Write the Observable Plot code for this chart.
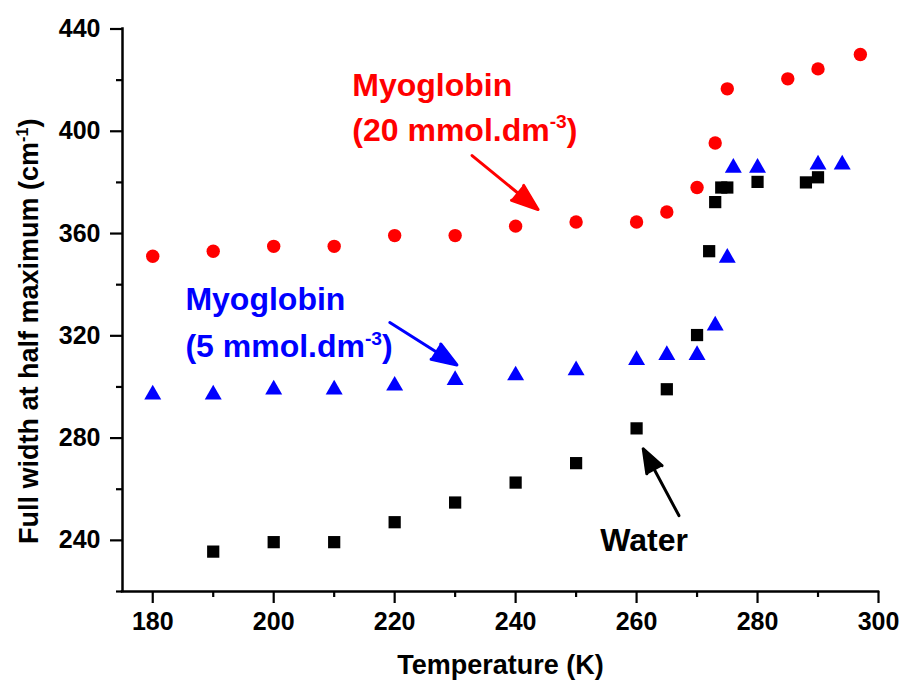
<!DOCTYPE html>
<html><head><meta charset="utf-8">
<script src="https://cdn.jsdelivr.net/npm/d3@7"></script>
<script src="https://cdn.jsdelivr.net/npm/@observablehq/plot@0.6"></script>
<style>body{margin:0;background:#fff;} #chart svg{display:block;}</style>
</head><body><div id="chart"></div>
<script>
const FONT = "'Liberation Sans', Arial, Helvetica, sans-serif";

// Myoglobin 20 mmol.dm-3 (red circles)
const myo20T = [180,190,200,210,220,230,240,250,260,265,270,273,275,285,290,297];
const myo20W = [351.1,353.1,355,355,359.2,359.2,362.9,364.5,364.5,368.4,378,395.4,416.6,420.5,424.4,430];
// Myoglobin 5 mmol.dm-3 (blue triangles)
const myo5T = [180,190,200,210,220,230,240,250,260,265,270,273,275,276,280,290,294];
const myo5W = [297,297,299,299,300.5,302.7,304.5,306.5,310.5,312.5,312.5,324,350.5,385.7,385.7,387,387];
// Water (black squares)
const waterT = [190,200,210,220,230,240,250,260,265,270,272,273,274,275,280,288,290];
const waterW = [235.6,239.3,239.3,247.1,254.8,262.6,270.2,283.8,299.1,320.3,353.1,372.3,378,378,380.2,380,382];

const xTicks = [180,200,220,240,260,280,300];
const xMinor = [190,210,230,250,270,290];
const yTicks = [240,280,320,360,400,440];
const yMinor = [220,260,300,340,380,420];

const xTitle = "Temperature (K)";
const yTitle = "Full width at half maximum (cm^{-1})";

// annotations (data coordinates)
const labels = [
  {x: 213, y: 417.7, text: "Myoglobin", color: "#ff0000"},
  {x: 213, y: 400.4, text: "(20 mmol.dm^{-3})", color: "#ff0000"},
  {x: 185.4, y: 334.1, text: "Myoglobin", color: "#0000ff"},
  {x: 185.4, y: 315.8, text: "(5 mmol.dm^{-3})", color: "#0000ff"},
  {x: 254.0, y: 240, text: "Water", color: "#000000"}
];
const arrows = [
  {x1: 232.8, y1: 390.5, x2: 243.7, y2: 369.4, color: "#ff0000"},
  {x1: 219.2, y1: 325.2, x2: 230.3, y2: 308.6, color: "#0000ff"},
  {x1: 267.0, y1: 249.7, x2: 261.1, y2: 275.8, color: "#000000"}
];

const toRows = (T, W) => T.map((t, i) => ({t, w: W[i]}));

const chart = Plot.plot({
  width: 905,
  height: 685,
  marginLeft: 122,
  marginRight: 27,
  marginTop: 28.5,
  marginBottom: 94,
  x: {domain: [175, 300]},
  y: {domain: [220, 440]},
  style: {fontFamily: FONT, background: "white", color: "black"},
  marks: [
    Plot.axisY({ticks: yTicks, tickSize: 12, tickPadding: 10, fontSize: 25, fontWeight: "bold", strokeWidth: 2.2, label: null}),
    Plot.axisY({ticks: yMinor, tickSize: 6, text: null, strokeWidth: 2.2, label: null}),
    Plot.axisX({ticks: xTicks, tickSize: 12, tickPadding: 9, fontSize: 25, fontWeight: "bold", strokeWidth: 2.2, label: null}),
    Plot.axisX({ticks: xMinor, tickSize: 6, text: null, strokeWidth: 2.2, label: null}),
    Plot.ruleX([175], {stroke: "black", strokeWidth: 2.5, strokeLinecap: "square"}),
    Plot.ruleY([220], {stroke: "black", strokeWidth: 2.5, strokeLinecap: "square"}),
    Plot.text([xTitle], {text: d => d, frameAnchor: "bottom", textAnchor: "middle", dy: 74, fontSize: 27, fontWeight: "bold", fill: "black", lineAnchor: "middle"}),
    Plot.text([yTitle], {text: d => d, frameAnchor: "left", textAnchor: "middle", rotate: -90, dx: -93, dy: 21, fontSize: 27, fontWeight: "bold", fill: "black", lineAnchor: "middle"}),
    Plot.dot(toRows(waterT, waterW), {x: "t", y: "w", symbol: "square", r: 6.9, fill: "black", stroke: "none"}),
    Plot.dot(toRows(myo5T, myo5W), {x: "t", y: "w", symbol: "triangle", r: 6.3, fill: "#0000ff", stroke: "none"}),
    Plot.dot(toRows(myo20T, myo20W), {x: "t", y: "w", symbol: "circle", r: 6.7, fill: "#ff0000", stroke: "none"}),
    Plot.arrow(arrows, {x1: "x1", y1: "y1", x2: "x2", y2: "y2", stroke: "color", strokeWidth: 3, headLength: 14, headAngle: 40}),
    Plot.text(labels, {x: "x", y: "y", text: "text", fill: "color", textAnchor: "start", fontSize: 32, fontWeight: "bold", lineAnchor: "middle"})
  ]
});

// superscript post-processing: "^{...}" becomes a raised, smaller tspan
d3.select(chart).selectAll("text").each(function () {
  const s = this.textContent;
  if (!s.includes("^{")) return;
  const fsEl = this.closest("[font-size]");
  const fs = fsEl ? parseFloat(fsEl.getAttribute("font-size")) : 20;
  const m = s.match(/^(.*)\^\{(.*?)\}(.*)$/);
  const sel = d3.select(this);
  sel.text(null);
  const rise = fs * 0.38;
  sel.append("tspan").text(m[1]);
  sel.append("tspan").attr("dy", -rise).attr("font-size", fs * 0.6).text(m[2]);
  sel.append("tspan").attr("dy", rise).text(m[3]);
});

// fill the arrowheads drawn by Plot.arrow
d3.select(chart).selectAll("g[aria-label='arrow'] path").each(function () {
  const nums = (this.getAttribute("d").match(/-?\d*\.?\d+(?:e-?\d+)?/g) || []).map(Number);
  if (nums.length < 6) return;
  const h = nums.slice(-6);
  const col = this.getAttribute("stroke") || this.parentNode.getAttribute("stroke");
  d3.select(this.parentNode).append("path")
    .attr("d", `M${h[0]},${h[1]}L${h[2]},${h[3]}L${h[4]},${h[5]}Z`)
    .attr("fill", col).attr("stroke", col).attr("stroke-width", 1.5).attr("stroke-linejoin", "miter");
});

document.getElementById("chart").appendChild(chart);
</script>
</body></html>
